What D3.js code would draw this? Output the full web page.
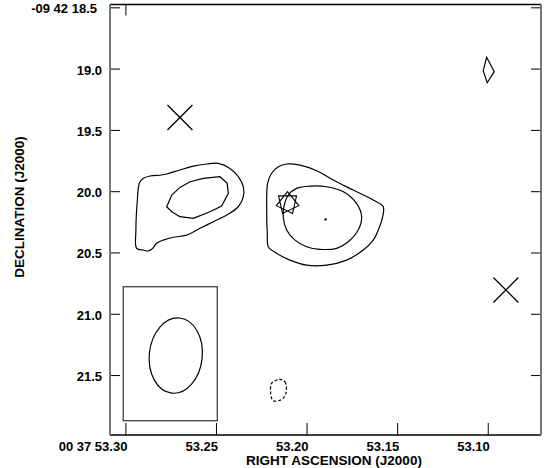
<!DOCTYPE html>
<html>
<head>
<meta charset="utf-8">
<script src="https://cdn.jsdelivr.net/npm/d3@7"></script>
<style>
  body { margin: 0; background: #fff; }
</style>
</head>
<body>
<svg id="map" width="551" height="468"></svg>
<script>
// axis values (RA seconds of 00 37, Dec arcsec of -09 42)
const raTicks = [53.30, 53.25, 53.20, 53.15, 53.10];
const raLabels = ["00 37 53.30", "53.25", "53.20", "53.15", "53.10"];
const raTopTicks = [53.30];
const decTicks = [18.5, 19.0, 19.5, 20.0, 20.5, 21.0, 21.5];
const decLabels = ["-09 42 18.5", "19.0", "19.5", "20.0", "20.5", "21.0", "21.5"];

// contours, [ra, dec]
const leftOuter = [
  [53.2938, 20.466], [53.2942, 20.317], [53.2934, 20.072], [53.2923, 19.936], [53.2901, 19.895],
  [53.2864, 19.876], [53.2800, 19.868], [53.2772, 19.860], [53.2699, 19.827], [53.2625, 19.795],
  [53.2551, 19.778], [53.2487, 19.773], [53.2423, 19.814], [53.2377, 19.882], [53.2349, 19.964],
  [53.2349, 20.045], [53.2377, 20.127], [53.2441, 20.195], [53.2515, 20.249], [53.2588, 20.303],
  [53.2662, 20.358], [53.2736, 20.376], [53.2791, 20.399], [53.2827, 20.425], [53.2855, 20.474],
  [53.2874, 20.488], [53.2901, 20.480]
];
const leftInner = [
  [53.2772, 20.127], [53.2744, 20.031], [53.2699, 19.969], [53.2643, 19.923], [53.2570, 19.895],
  [53.2478, 19.882], [53.2438, 19.936], [53.2432, 20.018], [53.2469, 20.121], [53.2533, 20.168],
  [53.2625, 20.221], [53.2699, 20.208], [53.2744, 20.168]
];
const rightOuter = [
  [53.2211, 20.453], [53.2217, 20.344], [53.2220, 20.154], [53.2215, 19.936], [53.2193, 19.854],
  [53.2156, 19.800], [53.2110, 19.778], [53.2036, 19.787], [53.1944, 19.833], [53.1853, 19.909],
  [53.1742, 19.991], [53.1632, 20.072], [53.1577, 20.127], [53.1580, 20.208], [53.1604, 20.317],
  [53.1632, 20.399], [53.1687, 20.480], [53.1779, 20.562], [53.1889, 20.603], [53.2000, 20.603],
  [53.2092, 20.562], [53.2165, 20.507]
];
const rightInner = [
  [53.2129, 20.208], [53.2125, 20.127], [53.2101, 20.031], [53.2055, 19.977], [53.1981, 19.958],
  [53.1889, 19.964], [53.1797, 20.004], [53.1724, 20.099], [53.1696, 20.208], [53.1715, 20.317],
  [53.1770, 20.412], [53.1834, 20.466], [53.1926, 20.474], [53.2000, 20.453], [53.2064, 20.399],
  [53.2110, 20.317]
];
const smallContour = [[53.1006, 18.908], [53.0964, 19.025], [53.1003, 19.115], [53.1025, 19.017]];
const negContour = [
  [53.2147, 21.535], [53.2119, 21.555], [53.2114, 21.650], [53.2137, 21.698],
  [53.2184, 21.710], [53.2198, 21.650], [53.2193, 21.568], [53.2165, 21.541]
];

// markers
const crosses = [[53.2699, 19.399], [53.0900, 20.806]];
const starPos = [53.2105, 20.097];
const peakPos = [53.1895, 20.230];

// beam: centre, half axes (arcsec), position angle (deg) and its box
const beamCenter = [53.2722, 21.341];
const beamAxes = [0.216, 0.308];
const beamPA = 6;
const beamBox = [53.3012, 20.7795, 53.2493, 21.8728];

const svg = d3.select("#map");
const mLeft = 110, mRight = 541, mTop = 4.5, mBottom = 435;
const font = "'Liberation Sans', Arial, sans-serif";

const x = d3.scaleLinear().domain([53.3085, 53.0706]).range([mLeft, mRight]);
const y = d3.scaleLinear().domain([18.477, 21.989]).range([mTop, mBottom]);

const smooth = d3.line().x(d => x(d[0])).y(d => y(d[1])).curve(d3.curveCatmullRomClosed.alpha(0.5));
const poly = d3.line().x(d => x(d[0])).y(d => y(d[1])).curve(d3.curveLinearClosed);

const g = svg.append("g").attr("fill", "none").attr("stroke", "#000").attr("stroke-width", 1.2);

[leftOuter, rightOuter, rightInner].forEach(c => g.append("path").attr("d", smooth(c)));
[leftInner, smallContour].forEach(c => g.append("path").attr("d", poly(c)));
g.append("path").attr("d", smooth(negContour)).attr("stroke-dasharray", "3,2");

// beam box + ellipse
svg.append("rect")
   .attr("x", x(beamBox[0]))
   .attr("y", y(beamBox[1]))
   .attr("width", x(beamBox[2]) - x(beamBox[0]))
   .attr("height", y(beamBox[3]) - y(beamBox[1]))
   .attr("fill", "none")
   .attr("stroke", "#333")
   .attr("stroke-width", 1.2);

const pxPerArcsec = y(1) - y(0);
svg.append("ellipse")
   .attr("transform", `translate(${x(beamCenter[0])},${y(beamCenter[1])}) rotate(${beamPA})`)
   .attr("rx", beamAxes[0] * pxPerArcsec)
   .attr("ry", beamAxes[1] * pxPerArcsec)
   .attr("fill", "none")
   .attr("stroke", "#000")
   .attr("stroke-width", 1.2);

// crosses
const cs = 12.5;
svg.selectAll("path.cross")
   .data(crosses)
   .join("path")
   .attr("class", "cross")
   .attr("d", d => {
     const cx = x(d[0]), cy = y(d[1]);
     return `M${cx - cs},${cy - cs}L${cx + cs},${cy + cs}M${cx - cs},${cy + cs}L${cx + cs},${cy - cs}`;
   })
   .attr("stroke", "#000")
   .attr("stroke-width", 1.3);

// seven pointed star
const sr = 11.5;
const starPts = d3.range(7).map(k => {
  const a = -Math.PI / 2 + k * 2 * (2 * Math.PI / 7);
  return [x(starPos[0]) + sr * Math.cos(a), y(starPos[1]) + sr * Math.sin(a)];
});
svg.append("path")
   .attr("d", "M" + starPts.join("L") + "Z")
   .attr("fill", "none")
   .attr("stroke", "#000")
   .attr("stroke-width", 1.1);

svg.append("circle")
   .attr("cx", x(peakPos[0]))
   .attr("cy", y(peakPos[1]))
   .attr("r", 1.2)
   .attr("fill", "#000");

// axes
const xAxis = svg.append("g")
   .attr("transform", `translate(0,${mBottom})`)
   .call(d3.axisBottom(x).tickValues(raTicks).tickSize(-12).tickPadding(7)
           .tickFormat((d, i) => raLabels[i]));
xAxis.selectAll("text").attr("text-anchor", "end").attr("dx", 1.5);

svg.append("g")
   .attr("transform", `translate(0,${mTop})`)
   .call(d3.axisTop(x).tickValues(raTopTicks).tickSize(-11).tickFormat(""));

const yAxis = svg.append("g")
   .attr("transform", `translate(${mLeft},0)`)
   .call(d3.axisLeft(y).tickValues(decTicks).tickSize(-10).tickPadding(8)
           .tickFormat((d, i) => decLabels[i]));
yAxis.selectAll("text").attr("dy", "0.42em");
yAxis.select(".tick:first-of-type text").attr("x", -13);

svg.append("g")
   .attr("transform", `translate(${mRight},0)`)
   .call(d3.axisRight(y).tickValues(decTicks).tickSize(-10).tickFormat(""));

[xAxis, yAxis].forEach(a => a.attr("font-size", 13).attr("font-family", font).attr("font-weight", "bold"));
svg.selectAll(".tick line").attr("stroke", "#000");
svg.selectAll(".tick text").attr("fill", "#000");
svg.selectAll(".domain").remove();

// frame
svg.append("line").attr("x1", mLeft).attr("x2", mRight).attr("y1", mTop).attr("y2", mTop)
   .attr("stroke", "#000").attr("stroke-width", 1.5);
svg.append("line").attr("x1", mLeft).attr("x2", mRight).attr("y1", mBottom).attr("y2", mBottom)
   .attr("stroke", "#000").attr("stroke-width", 1.5);
svg.append("line").attr("x1", mLeft).attr("x2", mLeft).attr("y1", mTop).attr("y2", mBottom)
   .attr("stroke", "#777").attr("stroke-width", 2);
svg.append("line").attr("x1", mRight).attr("x2", mRight).attr("y1", mTop).attr("y2", mBottom)
   .attr("stroke", "#777").attr("stroke-width", 2);

// titles
svg.append("text")
   .attr("x", 334)
   .attr("y", 465)
   .attr("text-anchor", "middle")
   .attr("font-family", font)
   .attr("font-weight", "bold")
   .attr("font-size", 13.5)
   .text("RIGHT ASCENSION (J2000)");

svg.append("text")
   .attr("transform", "translate(24,207) rotate(-90)")
   .attr("text-anchor", "middle")
   .attr("font-family", font)
   .attr("font-weight", "bold")
   .attr("font-size", 13.5)
   .text("DECLINATION (J2000)");
</script>
</body>
</html>
